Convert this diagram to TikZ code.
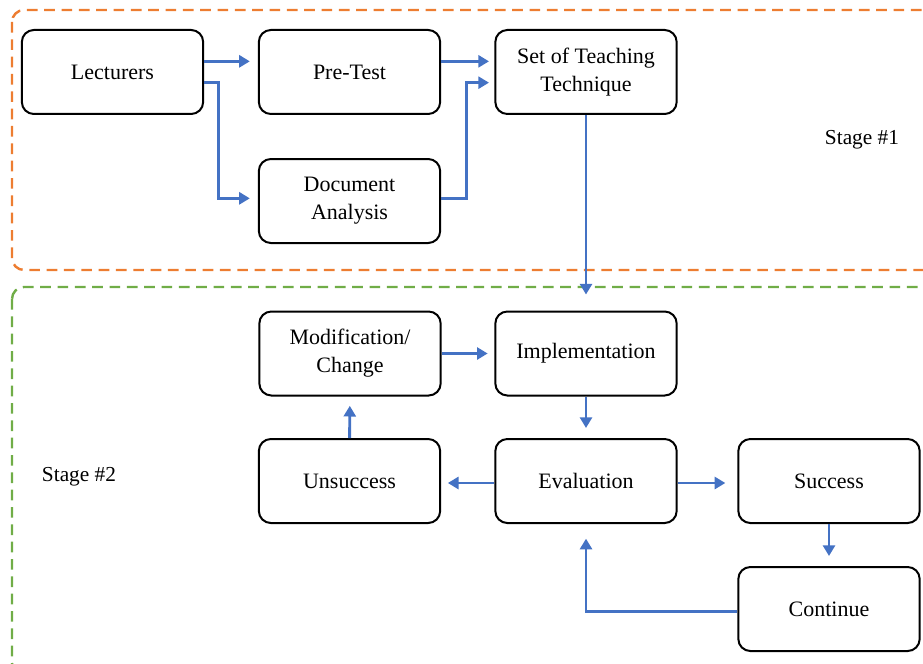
\documentclass[tikz,border=0pt]{standalone}
\usepackage{fontspec}
\setmainfont{Liberation Serif}
\usetikzlibrary{arrows.meta, positioning}
\definecolor{flowblue}{HTML}{4472C4}
\definecolor{stageorange}{HTML}{ED7D31}
\definecolor{stagegreen}{HTML}{70AD47}

\begin{document}
\begin{tikzpicture}[
    x=0.75pt, y=-0.75pt,
    process/.style={rectangle, rounded corners=9pt, minimum width=136pt, minimum height=63pt, text centered, draw=black, line width=1.5pt, font=\fontsize{16.5}{21}\selectfont, align=center},
    label/.style={font=\fontsize{16}{21}\selectfont},
    flow/.style={-{Triangle[length=8pt,width=9pt]}, line width=2.2pt, draw=flowblue},
    stagebox/.style={dashed, dash pattern=on 8pt off 5pt, line width=1.8pt, rounded corners=9pt}
]
    \useasboundingbox (0,0) rectangle (923,663);

    % Stage boxes
    \draw[stagebox, stageorange] (12,10) rectangle (940,270);
    \draw[stagebox, stagegreen] (12,287) rectangle (940,675);
    \node[label] (stage1) at (862,140) {Stage \#1};
    \node[label] (stage2) at (79,477) {Stage \#2};

    % Stage 1
    \node[process] (lecturers) at (112.5,72) {Lecturers};
    \node[process] (pretest) at (349.5,72) {Pre-Test};
    \node[process] (technique) at (586,72) {Set of Teaching\\Technique};
    \node[process] (docanalysis) at (349.5,201) {Document\\Analysis};
    \draw[flow, shorten >=6pt] ([yshift=8pt]lecturers.east) -- ([yshift=8pt]pretest.west);
    \draw[flow, shorten >=6pt] ([yshift=-8pt]lecturers.east) -- ++(11pt,0) |- ([yshift=2pt]docanalysis.west);
    \draw[flow, shorten >=4pt] ([yshift=8pt]pretest.east) -- ([yshift=8pt]technique.west);
    \draw[flow, shorten >=4pt] ([yshift=2pt]docanalysis.east) -- ++(19pt,0) |- ([yshift=-8pt]technique.west);

    % Stage 2
    \node[process] (modification) at (350,353.5) {Modification/\\Change};
    \node[process] (implementation) at (586,353.5) {Implementation};
    \node[process] (unsuccess) at (349.5,481) {Unsuccess};
    \node[process] (evaluation) at (586,481) {Evaluation};
    \node[process] (success) at (829,481) {Success};
    \node[process] (continue) at (829,609) {Continue};
    \draw[flow, shorten >=12pt] (technique) -- (implementation);
    \draw[flow, shorten >=5pt] (modification) -- (implementation);
    \draw[flow, shorten >=7.5pt] (implementation) -- (evaluation);
    \draw[flow, shorten >=5pt] ([yshift=-1.5pt]evaluation.west) -- ([yshift=-1.5pt]unsuccess.east);
    \draw[flow, shorten >=9pt] ([yshift=-1.5pt]evaluation.east) -- ([yshift=-1.5pt]success.west);
    \draw[flow, shorten >=7pt] (unsuccess) -- (modification);
    \draw[flow, shorten >=7.5pt] (success) -- (continue);
    \draw[flow, shorten >=11pt] ([yshift=-2pt]continue.west) -| (evaluation);

\end{tikzpicture}
\end{document}
